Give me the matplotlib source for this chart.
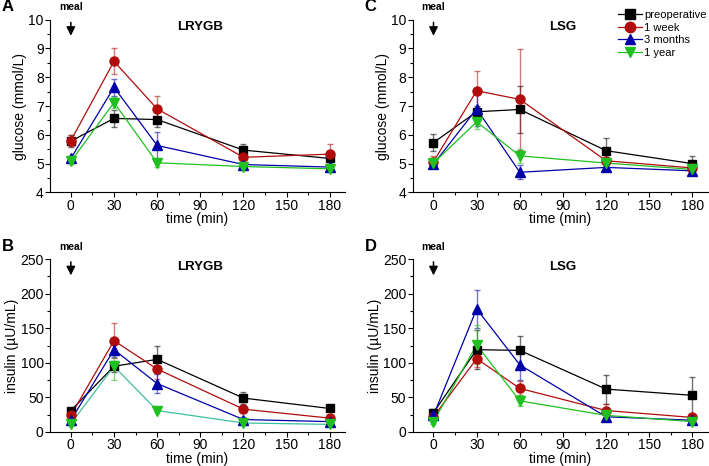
#!/usr/bin/env python

import matplotlib
matplotlib.use('Agg')
import matplotlib.pyplot as plt
from matplotlib.ticker import MultipleLocator

plt.rcParams['font.family'] = ['Liberation Sans', 'DejaVu Sans']

times = [0, 30, 60, 120, 180]
groups = ['preoperative', '1 week', '3 months', '1 year']

# glucose (mmol/L), LRYGB
glu_rygb = [[5.78, 6.57, 6.53, 5.47, 5.18],
            [5.80, 8.55, 6.90, 5.22, 5.33],
            [5.18, 7.65, 5.63, 4.97, 4.88],
            [5.08, 7.12, 5.03, 4.90, 4.82]]
glu_rygb_err = [[0.20, 0.30, 0.25, 0.20, 0.12],
                [0.20, 0.45, 0.45, 0.10, 0.35],
                [0.10, 0.30, 0.48, 0.05, 0.10],
                [0.10, 0.20, 0.15, 0.08, 0.10]]

# glucose (mmol/L), LSG
glu_lsg = [[5.73, 6.80, 6.88, 5.45, 5.00],
           [5.07, 7.53, 7.23, 5.10, 4.85],
           [4.98, 6.90, 4.70, 4.87, 4.75],
           [5.02, 6.45, 5.27, 5.02, 4.80]]
glu_lsg_err = [[0.30, 0.20, 0.80, 0.45, 0.25],
               [0.20, 0.68, 1.75, 0.10, 0.10],
               [0.10, 0.60, 0.25, 0.10, 0.10],
               [0.15, 0.25, 0.25, 0.10, 0.10]]

# insulin (uU/mL), LRYGB
ins_rygb = [[31, 95, 105, 49, 34],
            [24, 132, 91, 33, 20],
            [17, 119, 70, 18, 15],
            [12, 95, 31, 13, 11]]
ins_rygb_err = [[4, 8, 19, 9, 3],
                [5, 25, 15, 5, 3],
                [3, 10, 14, 3, 3],
                [3, 20, 4, 3, 3]]

# insulin (uU/mL), LSG
ins_lsg = [[28, 119, 118, 62, 53],
           [22, 106, 63, 31, 21],
           [24, 178, 97, 22, 17],
           [15, 126, 45, 24, 15]]
ins_lsg_err = [[5, 28, 21, 21, 27],
               [4, 12, 10, 10, 4],
               [4, 28, 22, 4, 3],
               [3, 28, 8, 4, 3]]

colors = ['#000000', '#b00c0c', '#0000a8', '#1fc01f']
markers = ['s', 'o', '^', 'v']
msizes = [5.5, 6.5, 6.5, 6.5]

fig = plt.figure(figsize=(7.09, 4.66), dpi=100)
w = 0.416
h = 0.371
pos = {'A': [0.0705, 0.587, w, h],
       'C': [0.582, 0.587, w, h],
       'B': [0.0705, 0.073, w, h],
       'D': [0.582, 0.073, w, h]}

panels = [('A', 'LRYGB', glu_rygb, glu_rygb_err, 'glucose (mmol/L)', (4, 10), 1, 0.5),
          ('C', 'LSG', glu_lsg, glu_lsg_err, 'glucose (mmol/L)', (4, 10), 1, 0.5),
          ('B', 'LRYGB', ins_rygb, ins_rygb_err, 'insulin (\u00b5U/mL)', (0, 250), 50, 25),
          ('D', 'LSG', ins_lsg, ins_lsg_err, 'insulin (\u00b5U/mL)', (0, 250), 50, 25)]

for letter, title, vals, errs, ylab, ylim, ymaj, ymin in panels:
    ax = fig.add_axes(pos[letter])
    for i in range(len(groups)):
        lc = colors[i]
        if letter == 'B' and i == 3:
            lc = '#3cc0a0'
        ax.errorbar(times, vals[i], yerr=errs[i], fmt='none', ecolor=colors[i],
                    alpha=0.55, elinewidth=1.0, capsize=2, capthick=1.0, zorder=2)
        ax.plot(times, vals[i], '-', color=lc, lw=0.9, zorder=3)
        ax.plot(times, vals[i], marker=markers[i], ls='none', color=colors[i],
                ms=msizes[i], mec=colors[i], zorder=4)
    ax.set_xlim(-14.5, 190.5)
    ax.set_ylim(*ylim)
    ax.set_xticks([0, 30, 60, 90, 120, 150, 180])
    ax.xaxis.set_minor_locator(MultipleLocator(15))
    ax.yaxis.set_major_locator(MultipleLocator(ymaj))
    ax.yaxis.set_minor_locator(MultipleLocator(ymin))
    ax.spines['top'].set_visible(False)
    ax.spines['right'].set_visible(False)
    ax.tick_params(which='major', direction='out', length=3.5, width=0.8, labelsize=10, pad=1)
    ax.tick_params(which='minor', direction='out', length=2, width=0.8)
    ax.set_xlabel('time (min)', fontsize=10, labelpad=-0.5)
    ax.set_ylabel(ylab, fontsize=10, labelpad=1)
    ax.text(90, 0.955, title, transform=ax.get_xaxis_transform(), ha='center', va='center',
            fontsize=9.5, fontweight='bold')
    # meal arrow
    ax.annotate('', xy=(0, 0.89), xytext=(0, 1.0), xycoords=ax.get_xaxis_transform(),
                textcoords=ax.get_xaxis_transform(),
                arrowprops=dict(arrowstyle='-|>', color='k', lw=1.1, mutation_scale=13),
                annotation_clip=False)
    ax.text(0, 1.07, 'meal', transform=ax.get_xaxis_transform(), ha='center', va='center',
            fontsize=7.5, fontweight='bold')
    bb = pos[letter]
    fig.text(bb[0] - 0.068, bb[1] + bb[3] + 0.027, letter, ha='left', va='center',
             fontsize=12, fontweight='bold')
    if letter == 'C':
        handles = []
        for i in range(len(groups)):
            hdl, = ax.plot([], [], '-', marker=markers[i], color=colors[i], lw=0.9, ms=msizes[i] + 1)
            handles.append(hdl)
        ax.legend(handles, groups, loc='upper right', bbox_to_anchor=(1.02, 1.095),
                  frameon=False, fontsize=8, handlelength=2.2, handletextpad=0.2,
                  labelspacing=0.25, borderaxespad=0.2)

plt.savefig('out.png', dpi=100)
